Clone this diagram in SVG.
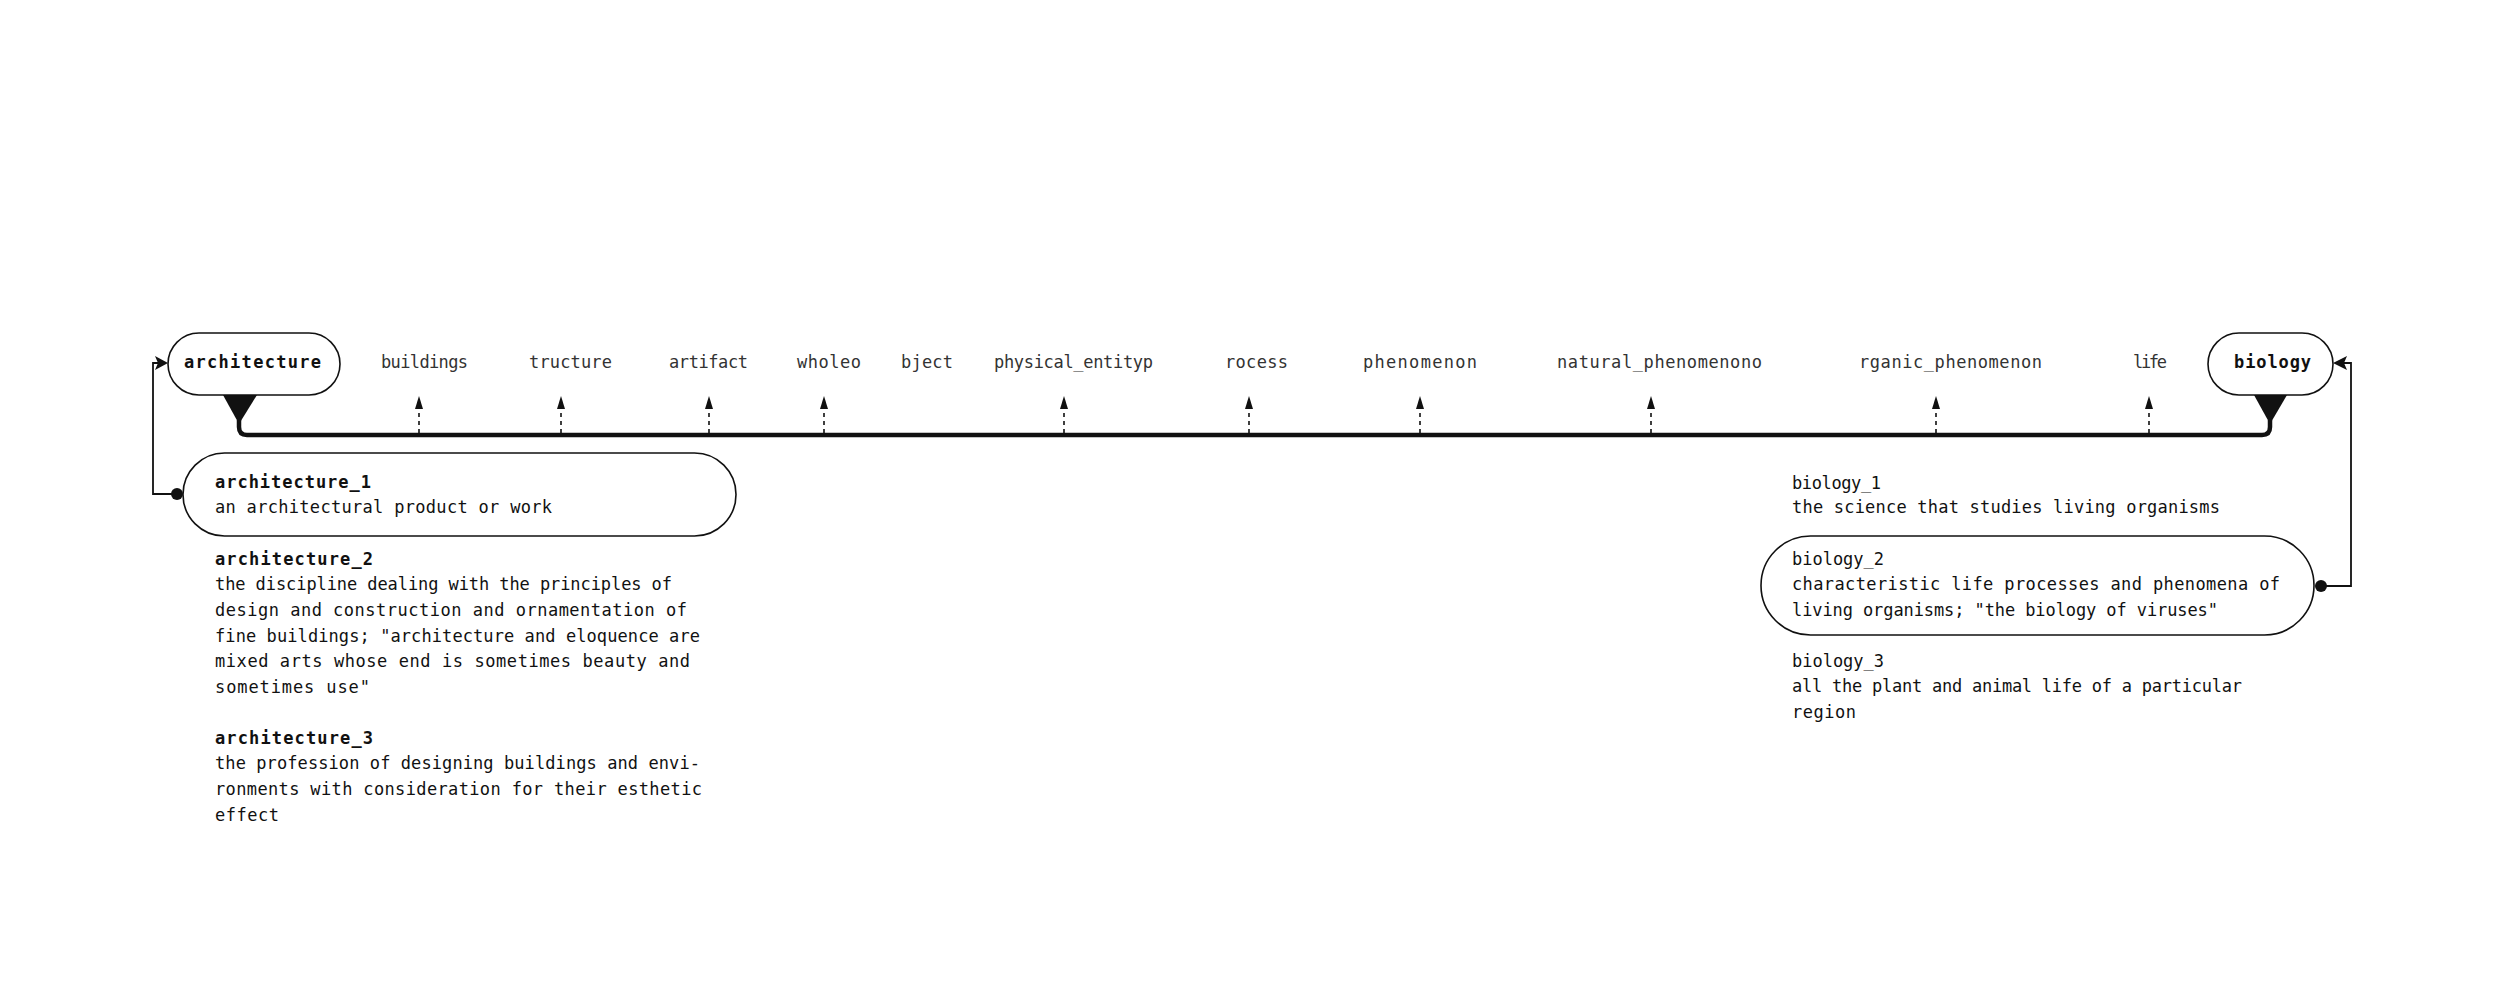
<svg xmlns="http://www.w3.org/2000/svg" width="2499" height="991" viewBox="0 0 2499 991">
<style>
text{font-family:"DejaVu Sans Mono","Liberation Mono",monospace;font-size:17px;fill:#111}
.b{font-weight:bold}
.lbl{fill:#333}
.node{fill:#fff;stroke:#111;stroke-width:1.6}
.dash{stroke:#111;stroke-width:1.6;stroke-dasharray:4 4;fill:none}
.conn{stroke:#111;stroke-width:1.8;fill:none}
</style>
<defs>
<marker id="ah" viewBox="0 0 10 14" refX="5" refY="1" markerWidth="10" markerHeight="14" markerUnits="userSpaceOnUse" orient="auto-start-reverse">
<path d="M5 0 L9 13 L1 13 Z" fill="#111"/>
</marker>
</defs>
<rect width="2499" height="991" fill="#fff"/>
<g id="connectors">
<path d="M239 420 L239 427 Q239 435 247 435 L2262 435 Q2270 435 2270 427 L2270 420" fill="none" stroke="#111" stroke-width="4.5"/>
<polygon points="223,395 257,395 239,424" fill="#111"/>
<polygon points="2254,395 2287,395 2270,424" fill="#111"/>
<g class="dash">
<path d="M419 433 L419 408"/>
<path d="M561 433 L561 408"/>
<path d="M709 433 L709 408"/>
<path d="M824 433 L824 408"/>
<path d="M1064 433 L1064 408"/>
<path d="M1249 433 L1249 408"/>
<path d="M1420 433 L1420 408"/>
<path d="M1651 433 L1651 408"/>
<path d="M1936 433 L1936 408"/>
<path d="M2149 433 L2149 408"/>
</g>
<g fill="#111">
<path d="M419 396 L423 409 L415 409 Z"/>
<path d="M561 396 L565 409 L557 409 Z"/>
<path d="M709 396 L713 409 L705 409 Z"/>
<path d="M824 396 L828 409 L820 409 Z"/>
<path d="M1064 396 L1068 409 L1060 409 Z"/>
<path d="M1249 396 L1253 409 L1245 409 Z"/>
<path d="M1420 396 L1424 409 L1416 409 Z"/>
<path d="M1651 396 L1655 409 L1647 409 Z"/>
<path d="M1936 396 L1940 409 L1932 409 Z"/>
<path d="M2149 396 L2153 409 L2145 409 Z"/>
</g>
<path class="conn" d="M177 494 L153 494 L153 363 L160 363"/>
<path d="M168 363 L155 356 L158 363 L155 370 Z" fill="#111"/>
<circle cx="177" cy="494" r="6" fill="#111"/>
<path class="conn" d="M2321 586 L2351 586 L2351 363 L2342 363"/>
<path d="M2333 363 L2347 356 L2344 363 L2347 370 Z" fill="#111"/>
<circle cx="2321" cy="586" r="6" fill="#111"/>
</g>
<g id="architecture">
<rect class="node" x="168" y="333" width="172" height="62" rx="31"/>
<text class="b" x="184" y="368" textLength="137">architecture</text>
</g>
<g id="biology">
<rect class="node" x="2208" y="333" width="125" height="62" rx="31"/>
<text class="b" x="2234" y="368" textLength="77">biology</text>
</g>
<g id="labels" class="lbl">
<text class="lbl" x="381" y="368" textLength="87">buildings</text>
<text class="lbl" x="529" y="368" textLength="83">tructure</text>
<text class="lbl" x="669" y="368" textLength="79">artifact</text>
<text class="lbl" x="797" y="368" textLength="64">wholeo</text>
<text class="lbl" x="901" y="368" textLength="52">bject</text>
<text class="lbl" x="994" y="368" textLength="159">physical_entityp</text>
<text class="lbl" x="1225" y="368" textLength="63">rocess</text>
<text class="lbl" x="1363" y="368" textLength="114">phenomenon</text>
<text class="lbl" x="1557" y="368" textLength="205">natural_phenomenono</text>
<text class="lbl" x="1859" y="368" textLength="183">rganic_phenomenon</text>
<text class="lbl" x="2133" y="368" textLength="34">life</text>
</g>
<g id="architecture_1">
<rect class="node" x="183" y="453" width="553" height="83" rx="41.5"/>
<text class="b" x="215" y="488" textLength="156">architecture_1</text>
<text x="215" y="513" textLength="337">an architectural product or work</text>
</g>
<g id="architecture_2">
<text class="b" x="215" y="565" textLength="158">architecture_2</text>
<text x="215" y="590" textLength="457">the discipline dealing with the principles of</text>
<text x="215" y="616" textLength="472">design and construction and ornamentation of</text>
<text x="215" y="642" textLength="485">fine buildings; "architecture and eloquence are</text>
<text x="215" y="667" textLength="475">mixed arts whose end is sometimes beauty and</text>
<text x="215" y="693" textLength="155">sometimes use"</text>
</g>
<g id="architecture_3">
<text class="b" x="215" y="744" textLength="158">architecture_3</text>
<text x="215" y="769" textLength="485">the profession of designing buildings and envi-</text>
<text x="215" y="795" textLength="487">ronments with consideration for their esthetic</text>
<text x="215" y="821" textLength="64">effect</text>
</g>
<g id="biology_1">
<text x="1792" y="489" textLength="89">biology_1</text>
<text x="1792" y="513" textLength="428">the science that studies living organisms</text>
</g>
<g id="biology_2">
<rect class="node" x="1761" y="536" width="553" height="99" rx="49.5"/>
<text x="1792" y="565" textLength="92">biology_2</text>
<text x="1792" y="590" textLength="488">characteristic life processes and phenomena of</text>
<text x="1792" y="616" textLength="426">living organisms; "the biology of viruses"</text>
</g>
<g id="biology_3">
<text x="1792" y="667" textLength="92">biology_3</text>
<text x="1792" y="692" textLength="450">all the plant and animal life of a particular</text>
<text x="1792" y="718" textLength="64">region</text>
</g>
</svg>
